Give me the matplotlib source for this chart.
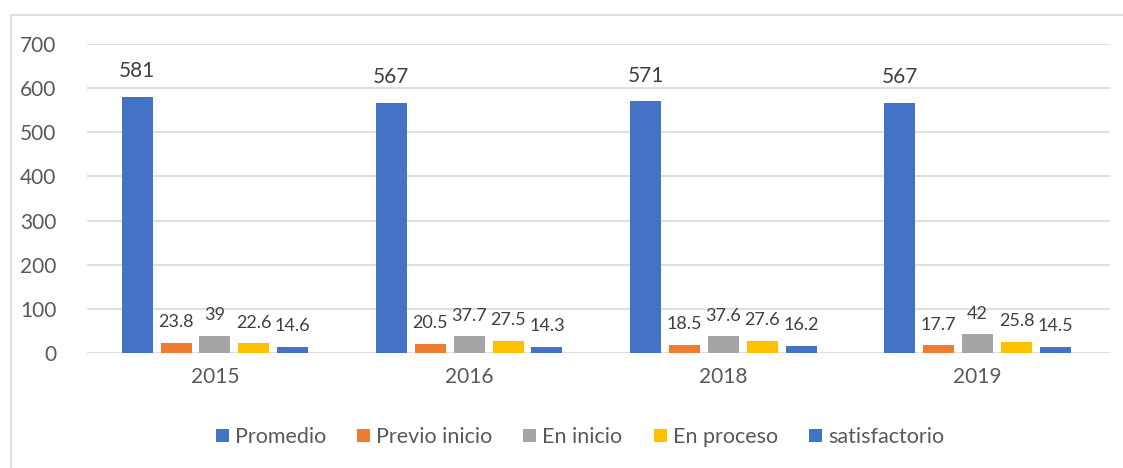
import matplotlib.pyplot as plt
from matplotlib.patches import Rectangle
import numpy as np

years = ["2015", "2016", "2018", "2019"]
series = ["Promedio", "Previo inicio", "En inicio", "En proceso", "satisfactorio"]
promedio = [581, 567, 571, 567]
previo_inicio = [23.8, 20.5, 18.5, 17.7]
en_inicio = [39, 37.7, 37.6, 42]
en_proceso = [22.6, 27.5, 27.6, 25.8]
satisfactorio = [14.6, 14.3, 16.2, 14.5]

values = [promedio, previo_inicio, en_inicio, en_proceso, satisfactorio]
colors = ["#4472C4", "#ED7D31", "#A5A5A5", "#FFC000", "#4472C4"]

plt.rcParams["font.family"] = ["Lato", "DejaVu Sans"]

fig = plt.figure(figsize=(11.23, 4.68), dpi=100)
ax = fig.add_axes([0.0775, 0.2457, 0.9105, 0.6603])

# outer chart frame (right and bottom edges run off the picture)
fig.patches.append(Rectangle((11 / 1123, -0.05), 1.1, 1 - 15 / 468 + 0.05,
                             transform=fig.transFigure, fill=False,
                             edgecolor="#D9D9D9", linewidth=1.2))

x = np.arange(len(years))
w = 0.122
step = 0.153
for i, (name, vals, c) in enumerate(zip(series, values, colors)):
    pos = x + (i - 2) * step
    bars = ax.bar(pos, vals, width=w, color=c, label=name, zorder=3)
    labels = [f"{v:g}" for v in vals]
    ax.bar_label(bars, labels=labels, padding=11 if i == 0 else 9,
                 fontsize=15 if i == 0 else 13, color="#404040")

ax.set_ylim(0, 700)
ax.set_xlim(-0.503, 3.519)
ax.set_yticks(range(0, 701, 100))
ax.set_xticks(x)
ax.set_xticklabels(years)
ax.grid(axis="y", color="#D9D9D9", linewidth=1.2, zorder=0)
for s in ax.spines.values():
    s.set_visible(False)
ax.tick_params(length=0, labelsize=15, colors="#595959", pad=10)
ax.tick_params(axis="y", pad=22)

ax.legend(loc="center", bbox_to_anchor=(0.482, -0.272), ncol=5, frameon=False,
          fontsize=15.5, labelcolor="#595959", handlelength=0.6, handleheight=0.6,
          handletextpad=0.28, columnspacing=1.45)

fig.savefig("out.png", dpi=100)
